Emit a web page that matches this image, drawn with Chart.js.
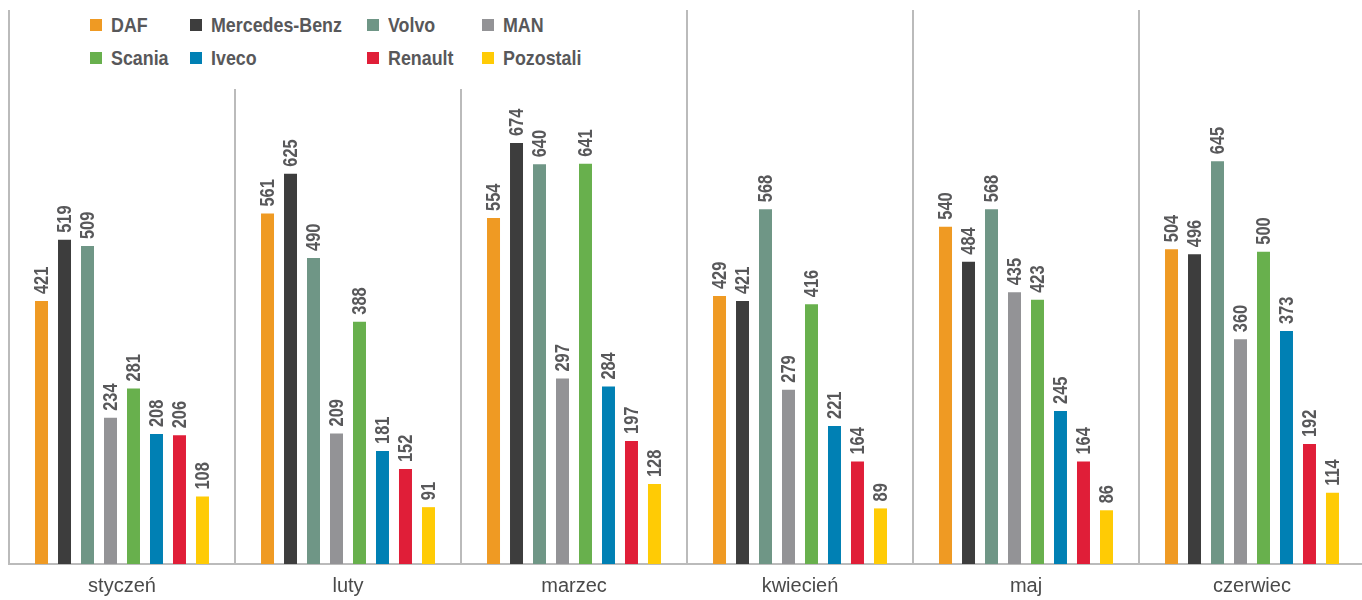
<!DOCTYPE html>
<html lang="pl">
<head>
<meta charset="UTF-8">
<script src="https://cdn.jsdelivr.net/npm/chart.js"></script>
<style>
    body { margin: 0; overflow: hidden; background: #fff; }
    .wrap { position: relative; width: 1366px; height: 600px; }
    #legenda {
        position: absolute; left: 14px; top: 0; width: 600px; height: 89px;
        background: #fff; box-sizing: border-box; padding: 8px 0 0 76px;
        display: grid; grid-template-columns: 100px 177px 115px auto;
        grid-auto-rows: 33px;
        font: bold 21px "Liberation Sans", Arial, sans-serif;
        color: #58585a;
    }
    #legenda span { display: flex; align-items: center; white-space: nowrap; }
    #legenda i { display: inline-block; width: 12px; height: 12px; margin-right: 9px; }
    #legenda b { display: inline-block; transform: scaleX(0.85); transform-origin: left center; }
</style>
</head>
<body>
<div class="wrap">
    <canvas id="wykres" width="1366" height="600"></canvas>
    <div id="legenda"></div>
</div>
<script>
    var miesiace = ['styczeń', 'luty', 'marzec', 'kwiecień', 'maj', 'czerwiec'];
    var marki = ['DAF', 'Mercedes-Benz', 'Volvo', 'MAN', 'Scania', 'Iveco', 'Renault', 'Pozostali'];
    var kolory = ['#ef9a23', '#3d3d3d', '#6f9686', '#939396', '#68b04d', '#0080b4', '#e01e38', '#ffcb05'];

    var daf = [421, 561, 554, 429, 540, 504];
    var mercedes = [519, 625, 674, 421, 484, 496];
    var volvo = [509, 490, 640, 568, 568, 645];
    var man = [234, 209, 297, 279, 435, 360];
    var scania = [281, 388, 641, 416, 423, 500];
    var iveco = [208, 181, 284, 221, 245, 373];
    var renault = [206, 152, 197, 164, 164, 192];
    var pozostali = [108, 91, 128, 89, 86, 114];

    var serie = [daf, mercedes, volvo, man, scania, iveco, renault, pozostali];

    var zbiory = [];
    for (let i = 0; i < marki.length; i++) {
        zbiory.push({
            label: marki[i],
            data: serie[i],
            backgroundColor: kolory[i],
            categoryPercentage: 0.814,
            barPercentage: 0.565
        });
    }

    // legenda w html, na bialym tle
    var leg = document.getElementById('legenda');
    for (let i = 0; i < marki.length; i++) {
        leg.innerHTML += '<span><i style="background:' + kolory[i] + '"></i><b>' + marki[i] + '</b></span>';
    }

    // liczby nad slupkami, obrocone i zwezone
    const etykiety = {
        id: 'etykiety',
        afterDatasetsDraw(chart) {
            const ctx = chart.ctx;
            ctx.save();
            ctx.font = 'bold 20px "Liberation Sans", Arial, sans-serif';
            ctx.fillStyle = '#58585a';
            ctx.textAlign = 'left';
            ctx.textBaseline = 'middle';
            chart.data.datasets.forEach(function (ds, i) {
                chart.getDatasetMeta(i).data.forEach(function (el, j) {
                    ctx.save();
                    ctx.translate(el.x, el.y - 7);
                    ctx.rotate(-Math.PI / 2);
                    ctx.scale(0.82, 1);
                    ctx.fillText(ds.data[j], 0, 1);
                    ctx.restore();
                });
            });
            ctx.restore();
        }
    };

    new Chart(document.getElementById('wykres'), {
        type: 'bar',
        data: { labels: miesiace, datasets: zbiory },
        options: {
            responsive: false,
            animation: false,
            devicePixelRatio: 1,
            layout: { padding: { left: 9, top: 10, right: 1, bottom: 0 } },
            plugins: { legend: { display: false }, tooltip: { enabled: false } },
            scales: {
                x: {
                    offset: true,
                    grid: { offset: true, color: '#bbbbbb', lineWidth: 2, drawTicks: false },
                    border: { display: true, color: '#bbbbbb', width: 2 },
                    ticks: {
                        padding: 10,
                        color: '#4a4a4a',
                        font: { family: '"Liberation Sans", Arial, sans-serif', size: 20 }
                    },
                    afterFit: function (scale) { scale.height = 36; }
                },
                y: { display: false, min: 0, max: 887 }
            }
        },
        plugins: [etykiety]
    });
</script>
</body>
</html>
